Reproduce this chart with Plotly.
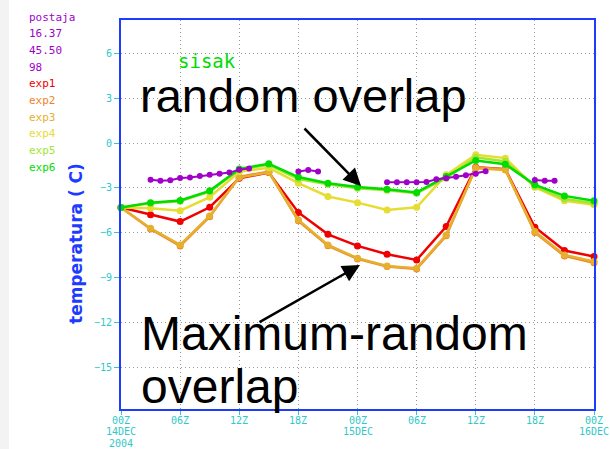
import plotly.graph_objects as go

# Forecast hours (3-hourly model output, 00Z 14 DEC 2004 .. 00Z 16 DEC 2004)
hours = [0, 3, 6, 9, 12, 15, 18, 21, 24, 27, 30, 33, 36, 39, 42, 45, 48]

exp1 = [-4.30, -4.80, -5.25, -4.29, -2.35, -1.97, -4.64, -6.10, -6.88, -7.44, -7.82, -5.58, -1.61, -1.74, -5.63, -7.19, -7.59]
exp2 = [-4.30, -5.75, -6.88, -4.92, -2.25, -1.90, -5.20, -6.86, -7.75, -8.25, -8.42, -6.20, -1.62, -1.74, -5.98, -7.55, -8.00]
exp3 = [-4.30, -5.70, -6.81, -4.87, -2.30, -1.95, -5.14, -6.81, -7.70, -8.22, -8.37, -6.14, -1.68, -1.79, -5.92, -7.48, -7.93]
exp4 = [-4.30, -4.36, -4.52, -3.62, -1.92, -1.65, -2.68, -3.57, -3.98, -4.47, -4.29, -2.12, -0.78, -1.00, -2.95, -3.86, -4.13]
exp5 = [-4.30, -4.02, -3.88, -3.25, -1.78, -1.45, -2.40, -2.75, -3.02, -3.15, -3.35, -2.35, -0.95, -1.22, -2.88, -3.72, -4.02]
exp6 = [-4.30, -3.98, -3.84, -3.19, -1.72, -1.38, -2.27, -2.68, -2.94, -3.08, -3.30, -2.23, -1.16, -1.41, -2.79, -3.53, -3.86]

# Hourly station observations (Sisak), None marks missing hours
obs_hours = [3, 4, 5, 6, 7, 8, 9, 10, 11, 12, 13, 14,
             18, 19, 20, 21,
             27, 28, 29, 30, 31, 32, 33, 34, 35, 36, 37, 38,
             42, 43, 44]
obs_temp = [-2.45, -2.52, -2.48, -2.33, -2.30, -2.20, -2.12, -2.04, -1.97, -1.77, -1.70, None,
            -1.90, -1.80, -1.90, None,
            -2.62, -2.62, -2.62, -2.62, -2.60, -2.42, -2.35, -2.24, -2.15, -2.04, -1.88, None,
            -2.46, -2.52, -2.52]

# Time axis labels, one list of text lines per tick
x_tick_vals = [0, 6, 12, 18, 24, 30, 36, 42, 48]
x_tick_lines = [["00Z", "14DEC", "2004"], ["06Z"], ["12Z"], ["18Z"], ["00Z", "15DEC"],
                ["06Z"], ["12Z"], ["18Z"], ["00Z", "16DEC"]]
y_tick_vals = [-15, -12, -9, -6, -3, 0, 3, 6]

series_names = ["exp1", "exp2", "exp3", "exp4", "exp5", "exp6"]
series_values = [exp1, exp2, exp3, exp4, exp5, exp6]
series_colors = ["#f00000", "#f08228", "#e6af2d", "#e6dc32", "#a0e632", "#00dc00"]
obs_color = "#a000c8"

legend_lines = ["postaja", "16.37", "45.50", "98"] + series_names
legend_colors = [obs_color] * 4 + series_colors

AXIS_BLUE = "#1e3cff"
TICK_CYAN = "#30c8c8"

W, H = 610, 449
ML, MR, MT, MB = 121, 16, 20, 40


def px(x):
    return (x - ML) / (W - ML - MR)


def py(y):
    return (H - MB - y) / (H - MT - MB)


fig = go.Figure()

for name, vals, col in zip(series_names, series_values, series_colors):
    fig.add_trace(go.Scatter(
        x=hours, y=vals, name=name, mode="lines+markers",
        line=dict(color=col, width=2.5),
        marker=dict(color=col, size=7, symbol="circle"),
        cliponaxis=False,
    ))

fig.add_trace(go.Scatter(
    x=obs_hours, y=obs_temp, name="postaja", mode="lines+markers",
    line=dict(color=obs_color, width=2),
    marker=dict(color=obs_color, size=6, symbol="circle"),
    connectgaps=False, cliponaxis=False,
))

annotations = []
tick_font = dict(family="DejaVu Sans Mono", size=10, color=TICK_CYAN)

# Time axis labels, tightly stacked below each tick
for xv, lines in zip(x_tick_vals, x_tick_lines):
    for j, line in enumerate(lines):
        annotations.append(dict(
            text=line, x=xv, y=py(420 + j * 11.5), xref="x", yref="paper",
            xanchor="center", yanchor="middle", showarrow=False, font=tick_font,
        ))

# Station / experiment key on the left
for i, (txt, col) in enumerate(zip(legend_lines, legend_colors)):
    annotations.append(dict(
        text=txt, x=px(27), y=py(17 + i * 16.7), xref="paper", yref="paper",
        xanchor="left", yanchor="middle", showarrow=False,
        font=dict(family="DejaVu Sans Mono", size=11, color=col),
    ))

# Station name
annotations.append(dict(
    text="sisak", x=px(176), y=py(61), xref="paper", yref="paper",
    xanchor="left", yanchor="middle", showarrow=False,
    font=dict(family="DejaVu Sans Mono", size=19, color="#00dc00"),
))

# Y axis title
annotations.append(dict(
    text="<b>temperatura ( C)</b>", x=px(76), y=py(244), xref="paper", yref="paper",
    xanchor="center", yanchor="middle", showarrow=False, textangle=-90,
    font=dict(family="DejaVu Sans", size=17, color=AXIS_BLUE),
))

# Overlap labels
annotations.append(dict(
    text="random overlap", x=px(138), y=py(95), xref="paper", yref="paper",
    xanchor="left", yanchor="middle", showarrow=False,
    font=dict(family="Liberation Sans, Arial", size=47, color="black"),
))
annotations.append(dict(
    text="Maximum-random", x=px(139), y=py(333), xref="paper", yref="paper",
    xanchor="left", yanchor="middle", showarrow=False,
    font=dict(family="Liberation Sans, Arial", size=48, color="black"),
))
annotations.append(dict(
    text="overlap", x=px(139), y=py(386), xref="paper", yref="paper",
    xanchor="left", yanchor="middle", showarrow=False,
    font=dict(family="Liberation Sans, Arial", size=48, color="black"),
))

# Arrows pointing at the two groups of curves
annotations.append(dict(
    text="", x=px(361), y=py(186), xref="paper", yref="paper",
    ax=303 - 361, ay=127 - 186, axref="pixel", ayref="pixel",
    showarrow=True, arrowhead=2, arrowsize=1.4, arrowwidth=2.5, arrowcolor="black",
))
annotations.append(dict(
    text="", x=px(360), y=py(265), xref="paper", yref="paper",
    ax=258 - 360, ay=323 - 265, axref="pixel", ayref="pixel",
    showarrow=True, arrowhead=2, arrowsize=1.4, arrowwidth=2.5, arrowcolor="black",
))

grid_style = dict(showgrid=True, gridcolor="#9a9a9a", griddash="1px,3px", gridwidth=1)

fig.update_layout(
    width=W, height=H,
    margin=dict(l=ML, r=MR, t=MT, b=MB, pad=0, autoexpand=False),
    paper_bgcolor="white", plot_bgcolor="white",
    showlegend=False,
    annotations=annotations,
    shapes=[dict(type="rect", xref="paper", yref="paper",
                 x0=px(0), x1=px(9), y0=py(449), y1=py(0),
                 fillcolor="#f3f3f3", line=dict(width=0), layer="below")],
    xaxis=dict(
        range=[0, 48], tickmode="array", tickvals=x_tick_vals, showticklabels=False,
        ticks="outside", ticklen=4, tickcolor=TICK_CYAN,
        showline=True, linecolor=AXIS_BLUE, linewidth=2, mirror=True,
        zeroline=False, automargin=False, **grid_style,
    ),
    yaxis=dict(
        range=[-17.8, 8.25], tickmode="array", tickvals=y_tick_vals,
        tickfont=tick_font, ticks="outside", ticklen=5, tickcolor=TICK_CYAN,
        showline=True, linecolor=AXIS_BLUE, linewidth=2, mirror=True,
        zeroline=False, automargin=False, **grid_style,
    ),
)

fig.write_html("out.html")
